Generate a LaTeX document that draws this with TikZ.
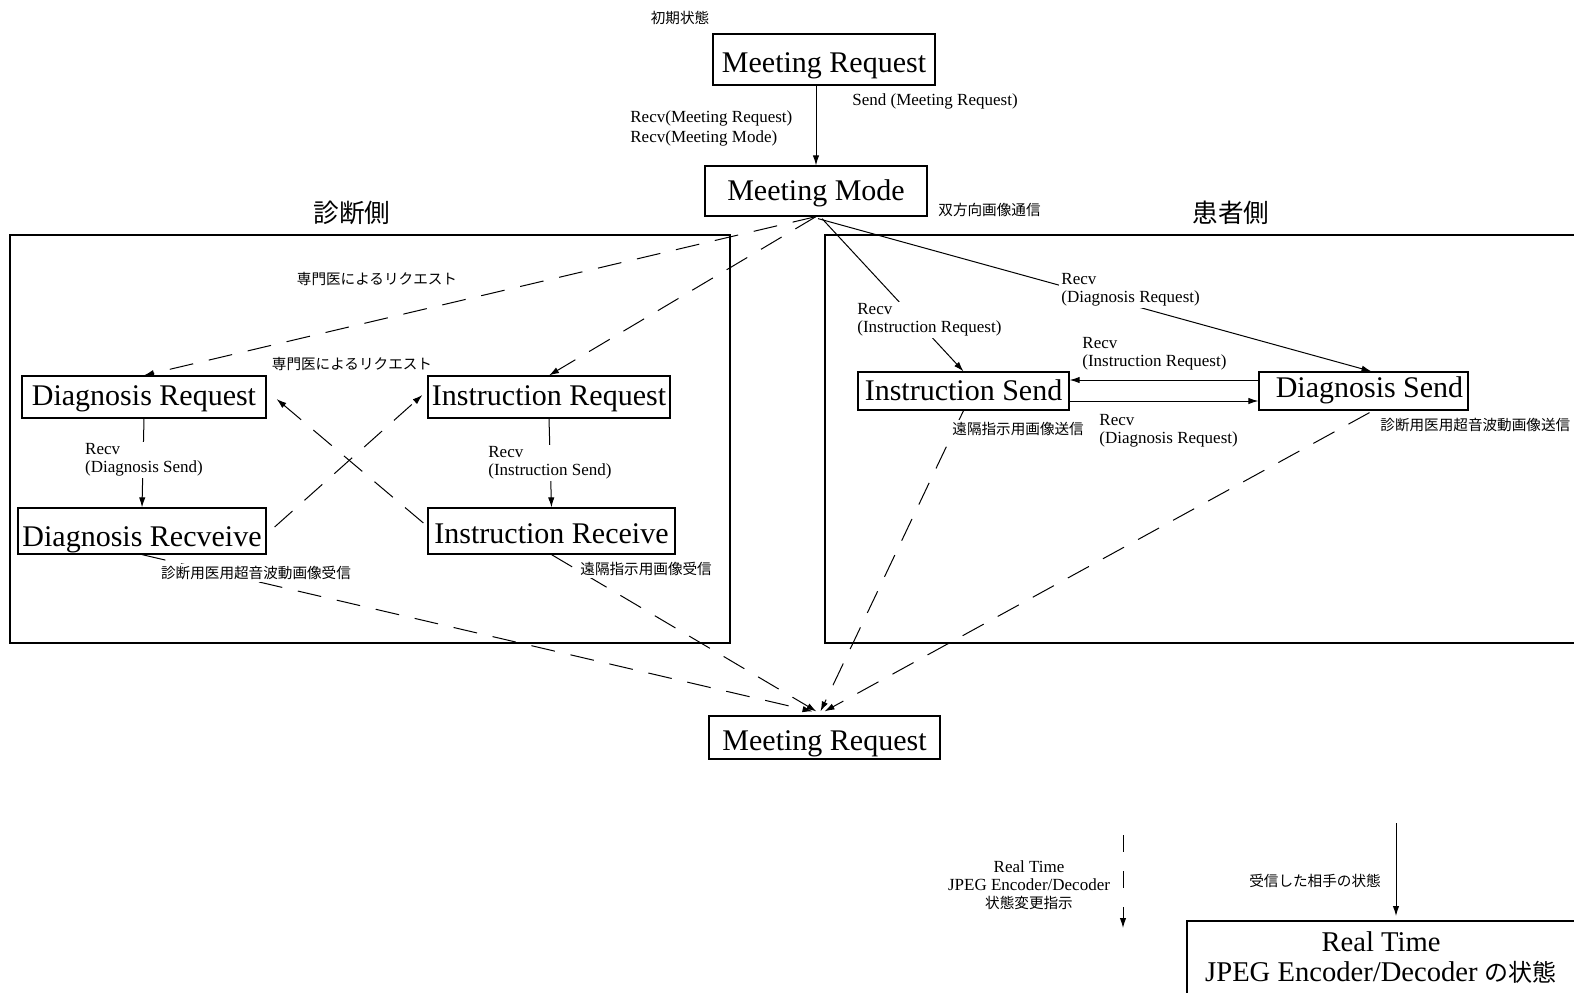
\documentclass[tikz,border=0pt]{standalone}
\usepackage{fontspec}
\setmainfont{Liberation Serif}
\newfontfamily\jp{Noto Sans CJK JP}
\usetikzlibrary{arrows.meta,calc}
\begin{document}
\begin{tikzpicture}[x=0.5pt,y=-0.5pt,
 box/.style={draw,line width=0.6pt,inner sep=0pt,font=\fontsize{15}{17}\selectfont},
 tb/.style={text height=#1pt,text depth=0pt},
 lbl/.style={inner sep=1pt,font=\fontsize{8.5}{9}\selectfont,align=left},
 jlbl/.style={inner sep=1pt,font=\jp\fontsize{7.3}{9}\selectfont},
 conn/.style={line width=0.5pt,-{Latex[length=5pt,width=3.2pt]}},
 dconn/.style={conn,dash pattern=on 12pt off 8pt},
 frame/.style={draw,line width=0.6pt},
 ttl/.style={font=\jp\fontsize{12.8}{14}\selectfont,inner sep=0pt},
]
\useasboundingbox (0,0) rectangle (1574,992);
\clip (0,0) rectangle (1574,992);

% frames
\draw[frame] (10,235) rectangle (730,643);
\draw[frame] (1600,235) -| (825,643) -- (1600,643);
\node[ttl] (tL) at (352,213) {診断側};
\node[ttl] (tR) at (1231,213) {患者側};

% boxes
\node[box,tb=13,minimum width=111pt,minimum height=25.5pt] (MR1) at (824,59.5) {Meeting Request};
\node[box,tb=9,minimum width=111pt,minimum height=25pt] (MM) at (816,191) {Meeting Mode};
\node[box,tb=8,minimum width=122pt,minimum height=21pt] (DReq) at (144,397) {Diagnosis Request};
\node[box,tb=8,minimum width=121pt,minimum height=21pt] (IReq) at (549,397) {Instruction Request};
\node[box,tb=15,minimum width=124pt,minimum height=23pt] (DRcv) at (142,531) {Diagnosis Recveive};
\node[box,tb=12,minimum width=123.5pt,minimum height=23pt] (IRcv) at (551.5,531) {Instruction Receive};
\node[box,tb=9,minimum width=105.5pt,minimum height=19pt] (ISend) at (963.5,391) {Instruction Send};
\node[box,tb=6,minimum width=104.5pt,minimum height=19pt] (DSend) at (1363.5,391) {\hspace*{6pt}Diagnosis Send};
\node[box,tb=13,minimum width=115.5pt,minimum height=21.5pt] (MR2) at (824.5,737.5) {Meeting Request};

% top
\node[jlbl] (init) at (680,18) {初期状態};
\draw[conn] (MR1.south -| MM.north) -- (MM.north);
\node[lbl,anchor=west] (sendlbl) at (850,101) {Send (Meeting Request)};
\node[lbl,anchor=west,font=\fontsize{8.5}{10}\selectfont] (recvlbl) at (628,128) {Recv(Meeting Request)\\Recv(Meeting Mode)};
\node[jlbl,anchor=west] (bidir) at (936,210) {双方向画像通信};

% left side dashed
\draw[dconn] (MM.south) -- (DReq.north);
\draw[dconn] (MM.south) -- (IReq.north);
\node[jlbl] (req1) at (377,279) {専門医によるリクエスト};
\node[jlbl] (req2) at (352,364) {専門医によるリクエスト};
\draw[dconn] ($(IRcv.west)+(-4,-8)$) -- ($(DReq.east)+(10,2)$);
\draw[dconn] ($(DRcv.east)+(8,-4)$) -- ($(IReq.west)+(-5,-2)$);

% left side solid
\draw[conn] (DReq.south) -- (DRcv.north);
\node[lbl,fill=white] (l1) at (144,460) {Recv\\(Diagnosis Send)};
\draw[conn] (IReq.south) -- (IRcv.north);
\node[lbl,fill=white] (l2) at (550,463) {Recv\\(Instruction Send)};

% to bottom meeting request
\draw[dconn] (DRcv.south) -- ($(MR2.north)+(-12,-4)$);
\draw[dconn] (IRcv.south) -- ($(MR2.north)+(-8,-4)$);
\draw[dconn] (ISend.south) -- ($(MR2.north)+(-4,-4)$);
\draw[dconn] ($(DSend.south)+(6,2)$) -- ($(MR2.north)+(0,-4)$);
\node[jlbl,fill=white] (drx) at (256,573) {診断用医用超音波動画像受信};
\node[jlbl,fill=white,anchor=west] (irx) at (578,569) {遠隔指示用画像受信};
\node[jlbl,fill=white,anchor=west] (isx) at (950,429) {遠隔指示用画像送信};
\node[jlbl,fill=white,anchor=west] (dsx) at (1378,425) {診断用医用超音波動画像送信};

% right side solid
\draw[conn] ($(MM.south)+(6,2)$) -- (ISend.north);
\node[lbl,fill=white,anchor=west] (l3) at (855,320) {Recv\\(Instruction Request)};
\draw[conn] ($(MM.south)+(2,2)$) -- ($(DSend.north)+(8,0)$);
\node[lbl,fill=white,anchor=west] (l4) at (1059,290) {Recv\\(Diagnosis Request)};
\draw[conn] ([yshift=5.5pt]DSend.west) -- ([yshift=5.5pt]ISend.east);
\node[lbl,anchor=west] (l5) at (1080,354) {Recv\\(Instruction Request)};
\draw[conn] ([yshift=-5pt]ISend.east) -- ([yshift=-5pt]DSend.west);
\node[lbl,anchor=west] (l6) at (1097,431) {Recv\\(Diagnosis Request)};

% legend
\coordinate (la1) at (1123,835);
\coordinate (la2) at (1123,928);
\draw[conn,dash pattern=on 8.5pt off 9.5pt] (la1) -- (la2);
\node[lbl,align=center] (legL) at (1029,885) {Real Time\\JPEG Encoder/Decoder\\{\jp\fontsize{7.3}{9}\selectfont 状態変更指示}};
\coordinate (lb1) at (1396,823);
\coordinate (lb2) at (1396,916);
\draw[conn] (lb1) -- (lb2);
\node[jlbl] (legR) at (1315,881) {受信した相手の状態};
\draw[frame] (1187,1010) |- (1600,921);
\node[inner sep=0pt,align=center,font=\fontsize{14.3}{15}\selectfont] (RT) at (1381,957) {Real Time\\JPEG Encoder/Decoder {\jp\fontsize{12}{15}\selectfont の状態}};
\end{tikzpicture}
\end{document}
